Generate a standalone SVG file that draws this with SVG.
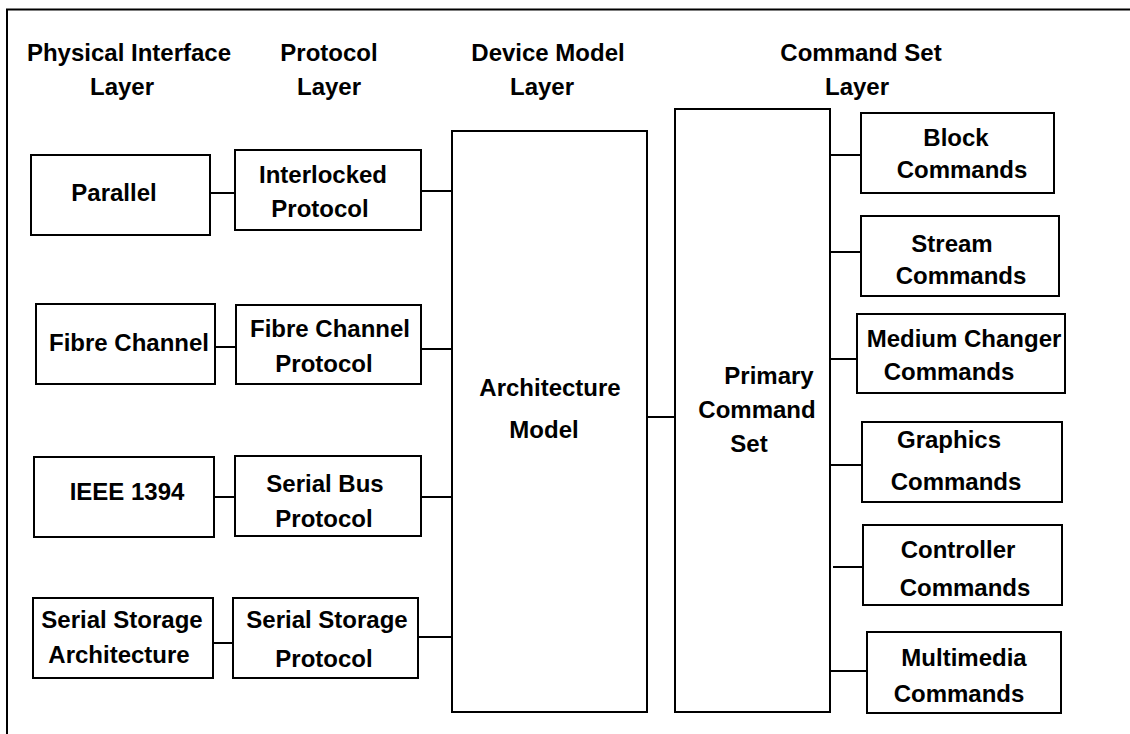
<svg xmlns="http://www.w3.org/2000/svg" width="1130" height="734" viewBox="0 0 1130 734">
<style>
.box{fill:#fff;stroke:#000;stroke-width:2}
.ln{stroke:#000;stroke-width:2;fill:none}
text{font-family:"Liberation Sans",Arial,sans-serif;font-weight:bold;font-size:24px;fill:#000;text-anchor:middle}
</style>
<rect width="1130" height="734" fill="#fff"/>
<g id="frame"><path class="ln" d="M7,734 V9.5 H1130"/></g>
<g id="headers">
<text x="129" y="61">Physical Interface</text><text x="122" y="95">Layer</text>
<text x="329" y="61">Protocol</text><text x="329" y="95">Layer</text>
<text x="548" y="61">Device Model</text><text x="542" y="95">Layer</text>
<text x="861" y="61">Command Set</text><text x="857" y="95">Layer</text>
</g>
<g id="connectors">
<path class="ln" d="M210,193 H237"/>
<path class="ln" d="M421,191 H452"/>
<path class="ln" d="M215,347 H236"/>
<path class="ln" d="M421,349 H452"/>
<path class="ln" d="M214,497 H237"/>
<path class="ln" d="M421,497 H452"/>
<path class="ln" d="M211,643 H233"/>
<path class="ln" d="M418,637 H452"/>
<path class="ln" d="M646,417 H677"/>
<path class="ln" d="M830,155 H861"/>
<path class="ln" d="M828,252 H861"/>
<path class="ln" d="M830,359 H858"/>
<path class="ln" d="M830,465 H862"/>
<path class="ln" d="M833,567 H866"/>
<path class="ln" d="M830,671 H867"/>
</g>
<g id="parallel"><rect class="box" x="31" y="155" width="179" height="80"/><text x="114" y="201">Parallel</text></g>
<g id="interlocked"><rect class="box" x="235" y="150" width="186" height="80"/><text x="323" y="183">Interlocked</text><text x="320" y="217">Protocol</text></g>
<g id="fibre-channel"><rect class="box" x="36" y="304" width="179" height="80"/><text x="129" y="351">Fibre Channel</text></g>
<g id="fcp"><rect class="box" x="236" y="305" width="185" height="79"/><text x="330" y="337">Fibre Channel</text><text x="324" y="372">Protocol</text></g>
<g id="ieee1394"><rect class="box" x="34" y="457" width="180" height="80"/><text x="127" y="500">IEEE 1394</text></g>
<g id="sbp"><rect class="box" x="235" y="456" width="186" height="80"/><text x="325" y="492">Serial Bus</text><text x="324" y="527">Protocol</text></g>
<g id="ssa"><rect class="box" x="33" y="598" width="180" height="80"/><text x="122" y="628">Serial Storage</text><text x="119" y="663">Architecture</text></g>
<g id="ssp"><rect class="box" x="233" y="598" width="185" height="80"/><text x="327" y="628">Serial Storage</text><text x="324" y="667">Protocol</text></g>
<g id="architecture-model"><rect class="box" x="452" y="131" width="195" height="581"/><text x="550" y="396">Architecture</text><text x="544" y="438">Model</text></g>
<g id="primary-command-set"><rect class="box" x="675" y="109" width="155" height="603"/><text x="769" y="384">Primary</text><text x="757" y="418">Command</text><text x="749" y="452">Set</text></g>
<g id="block"><rect class="box" x="861" y="113" width="193" height="80"/><text x="956" y="146">Block</text><text x="962" y="178">Commands</text></g>
<g id="stream"><rect class="box" x="861" y="216" width="198" height="80"/><text x="952" y="252">Stream</text><text x="961" y="284">Commands</text></g>
<g id="medium-changer"><rect class="box" x="857" y="314" width="208" height="79"/><text x="964" y="347">Medium Changer</text><text x="949" y="380">Commands</text></g>
<g id="graphics"><rect class="box" x="862" y="422" width="200" height="80"/><text x="949" y="448">Graphics</text><text x="956" y="490">Commands</text></g>
<g id="controller"><rect class="box" x="863" y="525" width="199" height="80"/><text x="958" y="558">Controller</text><text x="965" y="596">Commands</text></g>
<g id="multimedia"><rect class="box" x="867" y="632" width="194" height="81"/><text x="964" y="666">Multimedia</text><text x="959" y="702">Commands</text></g>
</svg>
